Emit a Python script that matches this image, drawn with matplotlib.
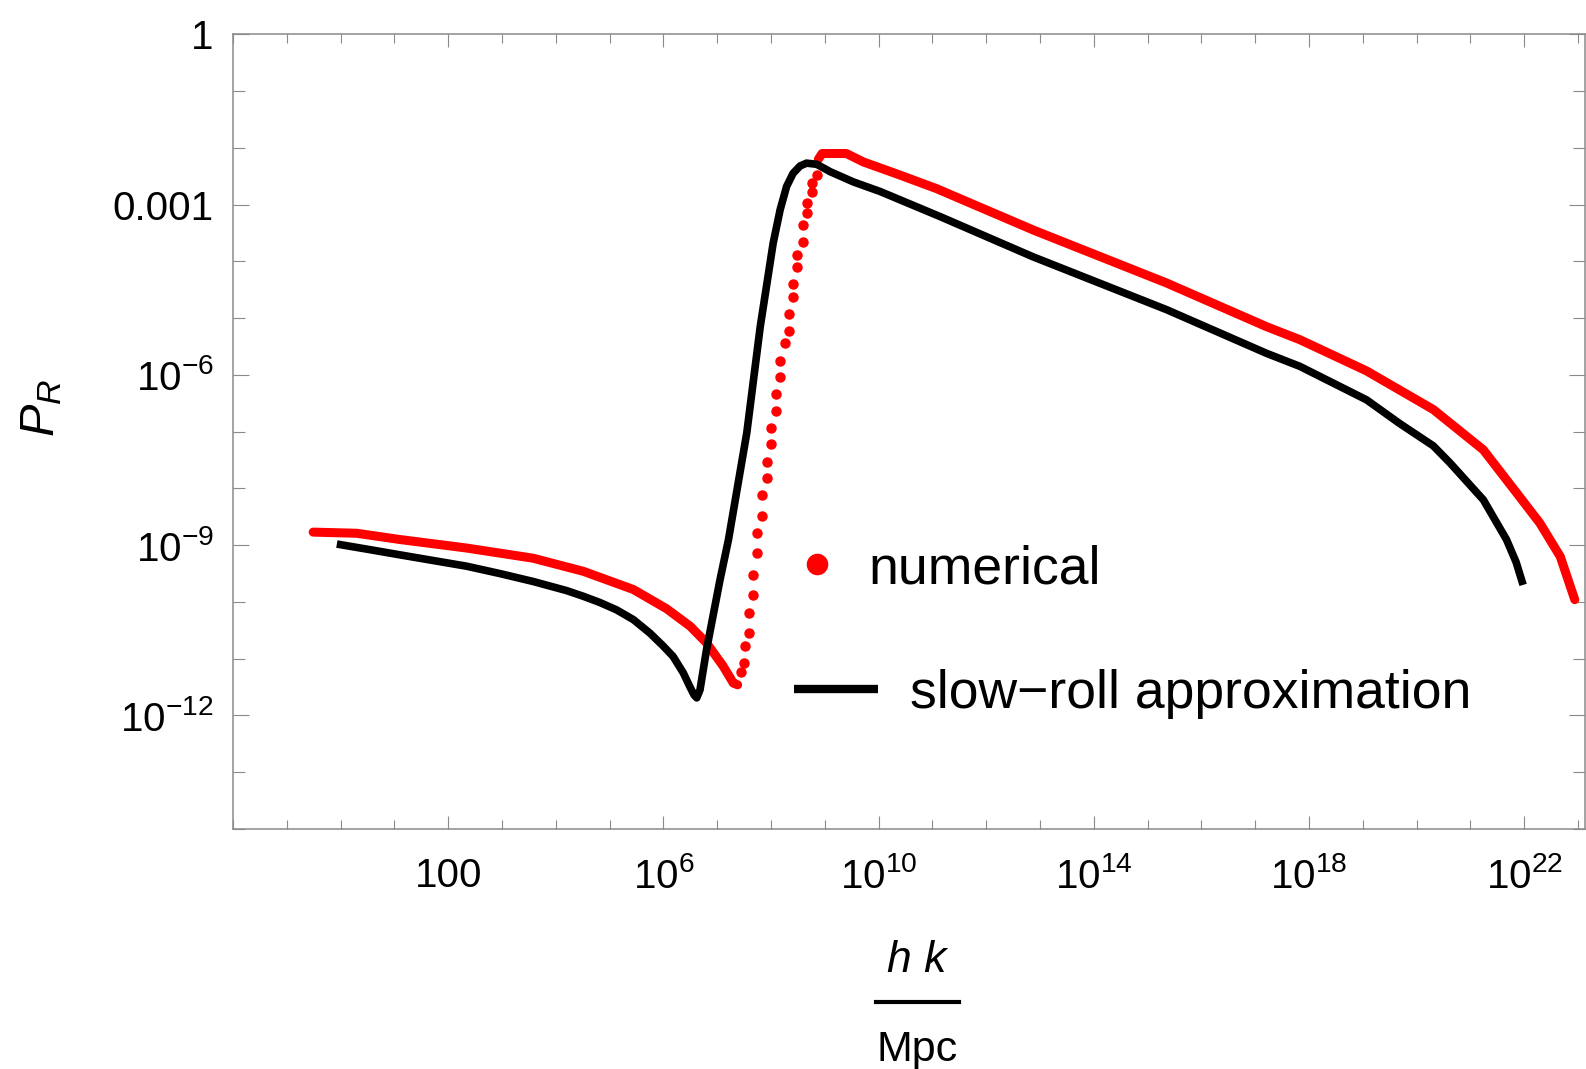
import numpy as np
import matplotlib
matplotlib.use("Agg")
import matplotlib.pyplot as plt
from matplotlib.lines import Line2D
from matplotlib.ticker import FixedLocator, FixedFormatter, NullFormatter

plt.rcParams['font.family'] = ['Liberation Sans', 'DejaVu Sans']
plt.rcParams['mathtext.fontset'] = 'custom'
plt.rcParams['mathtext.rm'] = 'Liberation Sans'
plt.rcParams['mathtext.it'] = 'Liberation Sans:italic'
plt.rcParams['mathtext.bf'] = 'Liberation Sans:bold'

# ---------------- data (log10 values) ----------------
slowroll_log10_k = [-0.07, 0.49, 1.10, 1.72, 2.34, 2.96, 3.58, 4.20, 4.51, 4.82, 5.13, 5.44,
                    5.75, 6.00, 6.18, 6.37, 6.49, 6.57, 6.62, 6.68, 6.80, 7.05, 7.21, 7.55,
                    7.80, 8.04, 8.17, 8.29, 8.41, 8.54, 8.66, 8.85, 9.10, 9.53, 10.03, 11.14,
                    12.87, 15.35, 17.21, 17.83, 19.07, 19.69, 20.31, 20.62, 21.24, 21.67,
                    21.85, 21.98]
slowroll_log10_P = [-8.98, -9.07, -9.17, -9.27, -9.37, -9.50, -9.64, -9.80, -9.90, -10.01,
                    -10.14, -10.31, -10.55, -10.78, -10.96, -11.25, -11.49, -11.64, -11.69,
                    -11.55, -10.85, -9.62, -8.90, -7.02, -5.15, -3.68, -3.09, -2.68, -2.45,
                    -2.32, -2.27, -2.29, -2.42, -2.60, -2.77, -3.21, -3.92, -4.85, -5.62,
                    -5.85, -6.44, -6.86, -7.25, -7.55, -8.20, -8.90, -9.30, -9.70]

# numerical: dense part before the dip
num_left_log10_k = [-0.51, 0.30, 1.10, 2.34, 3.58, 4.51, 5.44, 6.06, 6.50, 6.80, 7.11, 7.30, 7.38]
num_left_log10_P = [-8.77, -8.79, -8.90, -9.05, -9.23, -9.46, -9.78, -10.12, -10.43, -10.72,
                    -11.13, -11.43, -11.46]
# numerical: separated points on the steep rise
num_rise_log10_k = [7.44, 7.49, 7.51, 7.59, 7.59, 7.67, 7.67, 7.74, 7.74, 7.83, 7.83, 7.93, 7.93,
                    8.00, 8.00, 8.10, 8.10, 8.17, 8.17, 8.26, 8.33, 8.33, 8.41, 8.41, 8.48, 8.48,
                    8.59, 8.59, 8.67, 8.67, 8.76, 8.76, 8.85]
num_rise_log10_P = [-11.23, -11.07, -10.77, -10.54, -10.19, -9.87, -9.52, -9.13, -8.78, -8.48,
                    -8.11, -7.81, -7.53, -7.21, -6.93, -6.63, -6.33, -6.03, -5.75, -5.43, -5.22,
                    -4.92, -4.62, -4.40, -4.10, -3.89, -3.66, -3.36, -3.15, -2.97, -2.78, -2.62,
                    -2.48]
# numerical: dense part after the peak
num_right_log10_k = [8.88, 8.95, 9.40, 9.72, 10.34, 11.08, 12.88, 15.35, 17.21, 17.83,
                     19.07, 20.31, 21.24, 21.86, 22.29, 22.67, 22.94]
num_right_log10_P = [-2.20, -2.10, -2.10, -2.25, -2.46, -2.72, -3.45, -4.38, -5.15, -5.38,
                     -5.93, -6.61, -7.32, -8.08, -8.61, -9.20, -9.96]

x_major_exp = [2, 6, 10, 14, 18, 22]
x_major_labels = ["100", "$10^{6}$", "$10^{10}$", "$10^{14}$", "$10^{18}$", "$10^{22}$"]
y_major_exp = [0, -3, -6, -9, -12]
y_major_labels = ["1", "0.001", "$10^{-6}$", "$10^{-9}$", "$10^{-12}$"]

legend_labels = ["numerical", "slow\u2212roll approximation"]

# ---------------- figure ----------------
W, H = 1586, 1069
fig = plt.figure(figsize=(W / 100, H / 100), dpi=100)
ax = fig.add_axes([233 / W, 1 - 829 / H, (1585 - 233) / W, (829 - 34.3) / H])

red = '#ff0000'
p10 = lambda a: np.power(10.0, np.asarray(a, dtype=float))

ax.plot(p10(num_left_log10_k), p10(num_left_log10_P), color=red, lw=6.5,
        solid_capstyle='round', solid_joinstyle='round', zorder=2)
ax.plot(p10(num_right_log10_k), p10(num_right_log10_P), color=red, lw=6.5,
        solid_capstyle='round', solid_joinstyle='round', zorder=2)
ax.plot(p10(num_rise_log10_k), p10(num_rise_log10_P), ls='none', marker='o', ms=6.5,
        color=red, mec=red, zorder=2)
ax.plot(p10(slowroll_log10_k), p10(slowroll_log10_P), color='black', lw=5.5,
        solid_capstyle='butt', solid_joinstyle='round', zorder=3)

ax.set_xscale('log')
ax.set_yscale('log')
ax.set_xlim(1e-2, 10 ** 23.13)
ax.set_ylim(1e-14, 1e0)

gray = '#8a8a8a'
for s in ax.spines.values():
    s.set_color(gray)
    s.set_linewidth(1.1)

ax.xaxis.set_major_locator(FixedLocator(p10(x_major_exp)))
ax.xaxis.set_major_formatter(FixedFormatter(x_major_labels))
ax.xaxis.set_minor_locator(FixedLocator(p10(np.arange(-2, 24))))
ax.xaxis.set_minor_formatter(NullFormatter())
ax.yaxis.set_major_locator(FixedLocator(p10(y_major_exp)))
ax.yaxis.set_major_formatter(FixedFormatter(y_major_labels))
ax.yaxis.set_minor_locator(FixedLocator(p10(np.arange(-14, 1))))
ax.yaxis.set_minor_formatter(NullFormatter())

ax.tick_params(which='both', direction='in', top=True, right=True, color=gray,
               width=0.8, labelcolor='black', labelsize=29)
ax.tick_params(axis='x', which='major', length=9.4, pad=20)
ax.tick_params(axis='x', which='minor', length=6.5)
ax.tick_params(axis='y', which='major', length=11.5, pad=14)
ax.tick_params(axis='y', which='minor', length=8.4)

# legend (two entries, laid out like the reference)
h1 = Line2D([], [], ls='none', marker='o', ms=14.5, color=red, mec=red)
h2 = Line2D([], [], color='black', lw=6, solid_capstyle='butt')
leg1 = ax.legend([h1], [legend_labels[0]], loc='center left',
                 bbox_to_anchor=((790 - 233) / 1352, (829 - 569) / 794.7),
                 frameon=False, fontsize=38.5, handlelength=1.0, handletextpad=0.46,
                 borderpad=0, borderaxespad=0)
ax.add_artist(leg1)
ax.legend([h2], [legend_labels[1]], loc='center left',
          bbox_to_anchor=((794 - 233) / 1352, (829 - 694) / 794.7),
          frameon=False, fontsize=38.5, handlelength=1.57, handletextpad=0.6,
          borderpad=0, borderaxespad=0)

# axis labels
fig.text(42 / W, 1 - 408 / H, "$P_R$", rotation=90, ha='center', va='center', fontsize=35)
fig.text(917 / W, 1 - 960 / H, "h k", style='italic', ha='center', va='center', fontsize=32)
fig.add_artist(Line2D([876 / W, 959 / W], [1 - 1002 / H, 1 - 1002 / H], color='black',
                      lw=3, transform=fig.transFigure))
fig.text(917 / W, 1 - 1050 / H, "Mpc", ha='center', va='center', fontsize=31)

fig.savefig("out.png", dpi=100)
